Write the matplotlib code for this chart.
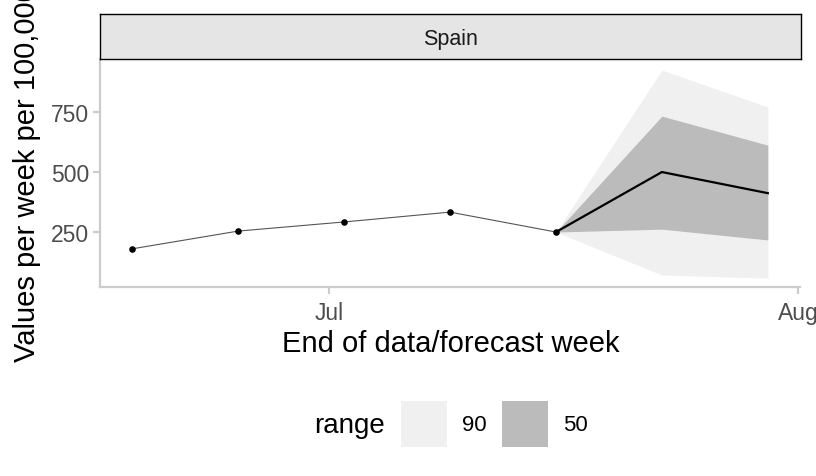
import matplotlib
matplotlib.use('Agg')
from matplotlib import pyplot as plt
import matplotlib.dates as mdates
from matplotlib.patches import Rectangle
from datetime import datetime

plt.rcParams['font.family'] = ['Liberation Sans', 'DejaVu Sans']

# observed weekly values
obs_dates = ['2022-06-18', '2022-06-25', '2022-07-02', '2022-07-09', '2022-07-16']
obs_values = [180, 254, 292, 333, 250]

# forecast (starts at last observed point)
fc_dates = ['2022-07-16', '2022-07-23', '2022-07-30']
fc_median = [250, 500, 412]
fc_lower50 = [250, 262, 217]
fc_upper50 = [250, 733, 612]
fc_lower90 = [250, 71, 58]
fc_upper90 = [250, 925, 771]

region = 'Spain'
range_labels = ['90', '50']
range_colors = ['#F0F0F0', '#BBBBBB']

obs_x = [datetime.strptime(d, '%Y-%m-%d') for d in obs_dates]
fc_x = [datetime.strptime(d, '%Y-%m-%d') for d in fc_dates]

W, H = 816, 477
fig = plt.figure(figsize=(W / 100, H / 100), dpi=100)

def fx(px):
    return px / W

def fy(py):
    return 1 - py / H

ax = fig.add_axes([fx(100), fy(288), fx(800) - fx(100), fy(60) - fy(288)])

ax.fill_between(fc_x, fc_lower90, fc_upper90, color=range_colors[0], linewidth=0)
ax.fill_between(fc_x, fc_lower50, fc_upper50, color=range_colors[1], linewidth=0)
ax.plot(obs_x, obs_values, color='#555555', linewidth=0.8)
ax.scatter(obs_x, obs_values, color='black', s=14, zorder=3)
ax.plot(fc_x, fc_median, color='black', linewidth=1.6)

ax.set_xlim(datetime(2022, 6, 15, 21), datetime(2022, 8, 1, 3))
ax.set_ylim(21, 971)
ax.set_yticks([250, 500, 750])
ax.xaxis.set_major_locator(mdates.MonthLocator())
ax.xaxis.set_major_formatter(mdates.DateFormatter('%b'))

for s in ['top', 'right']:
    ax.spines[s].set_visible(False)
for s in ['left', 'bottom']:
    ax.spines[s].set_color('#CCCCCC')
    ax.spines[s].set_linewidth(1.6)
ax.tick_params(axis='both', colors='#CCCCCC', width=1.6, length=5,
               labelsize=16.5, labelcolor='#4D4D4D', pad=3)
ax.tick_params(axis='x', pad=5)

ax.set_xlabel('End of data/forecast week', fontsize=21, color='black')
ax.xaxis.set_label_coords(0.501, -0.184)
ax.set_ylabel('Values per week per 100,000', fontsize=21, color='black')
ax.yaxis.set_label_coords(-0.084, 0.5)

# facet strip
strip = fig.add_axes([fx(100), fy(60), fx(801) - fx(100), fy(15) - fy(60)])
strip.set_xticks([])
strip.set_yticks([])
strip.set_facecolor('#E5E5E5')
for s in strip.spines.values():
    s.set_color('black')
    s.set_linewidth(1.0)
strip.text(0.5, 0.45, region, ha='center', va='center', fontsize=15.5, color='#1A1A1A')

# legend
fig.text(fx(349), fy(426), 'range', ha='center', va='center', fontsize=20)
key_left = [401, 502]
for lab, col, kx in zip(range_labels, range_colors, key_left):
    fig.patches.append(Rectangle((fx(kx), fy(448)), fx(46), fy(402) - fy(448),
                                 transform=fig.transFigure, facecolor=col,
                                 edgecolor='none'))
    fig.text(fx(kx + 61), fy(426), lab, ha='left', va='center', fontsize=16)

fig.savefig('out.png', dpi=100)
